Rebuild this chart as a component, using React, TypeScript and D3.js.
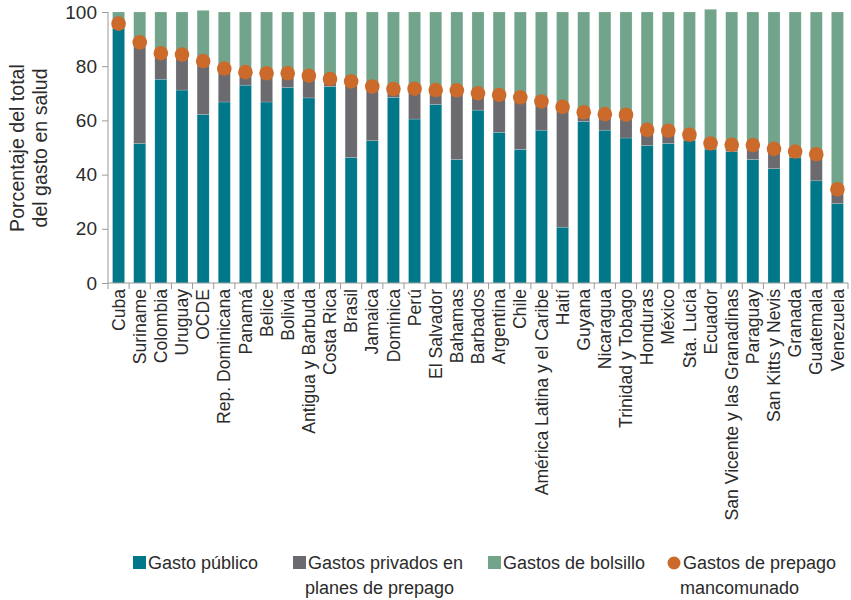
import * as d3 from 'd3'
import { useEffect, useRef } from 'react'

const width = 851
const height = 600
const margin = { top: 12, right: 3, bottom: 317, left: 108 }
const innerW = width - margin.left - margin.right
const innerH = height - margin.top - margin.bottom

const countries = [
  'Cuba', 'Suriname', 'Colombia', 'Uruguay', 'OCDE', 'Rep. Dominicana', 'Panamá', 'Belice',
  'Bolivia', 'Antigua y Barbuda', 'Costa Rica', 'Brasil', 'Jamaica', 'Dominica', 'Perú',
  'El Salvador', 'Bahamas', 'Barbados', 'Argentina', 'Chile', 'América Latina y el Caribe',
  'Haití', 'Guyana', 'Nicaragua', 'Trinidad y Tobago', 'Honduras', 'México', 'Sta. Lucía',
  'Ecuador', 'San Vicente y las Granadinas', 'Paraguay', 'San Kitts y Nevis', 'Granada',
  'Guatemala', 'Venezuela',
]
// gasto público
const publico = [
  94, 51.5, 75.2, 71.2, 62.2, 66.8, 73, 66.8, 72.2, 68.3, 72.5, 46.3, 52.5, 68.5, 60.5,
  65.9, 45.6, 63.8, 55.6, 49.3, 56.4, 20.6, 59.6, 56.4, 53.5, 50.7, 51.5, 52.7, 49.4,
  48.5, 45.6, 42.2, 46.3, 37.7, 29.3,
]
// gastos de prepago mancomunado (público + privado prepago)
const mancomunado = [
  95.7, 88.8, 84.8, 84.3, 81.9, 79.1, 77.8, 77.4, 77.4, 76.5, 75.3, 74.4, 72.5, 71.6, 71.7,
  71.2, 71.1, 70, 69.4, 68.5, 67, 65, 63, 62.3, 62.1, 56.5, 56.2, 54.7, 51.5, 51, 50.9,
  49.5, 48.5, 47.5, 34.6,
]
// gastos de bolsillo
const bolsillo = [
  4.3, 11.2, 15.2, 15.7, 18.7, 20.9, 22.2, 22.6, 22.6, 23.5, 24.7, 25.6, 27.5, 28.4, 28.3,
  28.8, 28.9, 30, 30.6, 31.5, 33, 35, 37, 37.7, 37.9, 43.5, 43.8, 45.3, 49.5, 49, 49.1,
  50.5, 51.5, 52.5, 65.4,
]
const yTicks = [0, 20, 40, 60, 80, 100]

const colors = {
  publico: '#00788a',
  privado: '#6b6b6f',
  bolsillo: '#72a48b',
  dot: '#cc6a2b',
}
const font = '"Liberation Sans", Arial, sans-serif'
const textColor = '#2b2b2b'

export default function App() {
  const ref = useRef<SVGSVGElement>(null)

  useEffect(() => {
    const root = d3.select(ref.current)
    root.selectAll('*').remove()
    const svg = root.append('g').attr('transform', `translate(${margin.left}, ${margin.top})`)

    const x = d3.scaleBand().domain(countries).range([0, innerW]).paddingInner(0.43).paddingOuter(0.215)
    const y = d3.scaleLinear().domain([0, 100]).range([innerH, 0])

    const rows = countries.map((c, i) => ({
      country: c,
      publico: publico[i],
      privado: mancomunado[i] - publico[i],
      bolsillo: bolsillo[i],
    }))
    const stack = d3.stack<any>().keys(['publico', 'privado', 'bolsillo'])(rows)

    svg
      .selectAll('g.layer')
      .data(stack)
      .enter()
      .append('g')
      .attr('class', 'layer')
      .attr('fill', (d) => (colors as any)[d.key])
      .selectAll('rect')
      .data((d) => d)
      .enter()
      .append('rect')
      .attr('x', (d: any) => x(d.data.country)!)
      .attr('width', x.bandwidth())
      .attr('y', (d) => y(d[1]))
      .attr('height', (d) => y(d[0]) - y(d[1]))
      .attr('stroke', 'rgba(255,255,255,0.35)')
      .attr('stroke-width', 0.5)

    // y axis
    const yAxis = svg.append('g').call(d3.axisLeft(y).tickValues(yTicks).tickSize(6).tickPadding(5))
    yAxis.select('.domain').attr('stroke', '#999').attr('d', `M0,0V${innerH}`)
    yAxis.selectAll('.tick line').attr('stroke', '#999')
    yAxis
      .selectAll('.tick text')
      .attr('fill', textColor)
      .style('font-family', font)
      .style('font-size', '19px')

    // x axis
    const xAxis = svg.append('g').attr('transform', `translate(0, ${innerH})`).call(d3.axisBottom(x).tickSize(0))
    xAxis.select('.domain').attr('stroke', '#999').attr('d', `M0,0H${innerW}`)
    xAxis.selectAll('.tick line').remove()
    xAxis
      .selectAll('.tick text')
      .attr('fill', textColor)
      .style('font-family', font)
      .style('font-size', '17.6px')
      .attr('text-anchor', 'end')
      .attr('transform', 'rotate(-90)')
      .attr('x', -6)
      .attr('y', 0)
      .attr('dy', '0.35em')
    // ticks between bars
    svg
      .append('g')
      .selectAll('line')
      .data(d3.range(countries.length + 1))
      .enter()
      .append('line')
      .attr('x1', (i) => i * x.step())
      .attr('x2', (i) => i * x.step())
      .attr('y1', innerH)
      .attr('y2', innerH + 6)
      .attr('stroke', '#999')

    // dots
    svg
      .selectAll('circle.dot')
      .data(rows)
      .enter()
      .append('circle')
      .attr('class', 'dot')
      .attr('cx', (d) => x(d.country)! + x.bandwidth() / 2)
      .attr('cy', (d, i) => y(mancomunado[i]))
      .attr('r', 7.3)
      .attr('fill', colors.dot)

    // y title
    const title = root
      .append('text')
      .attr('transform', 'translate(0, 148) rotate(-90)')
      .attr('text-anchor', 'middle')
      .attr('fill', textColor)
      .style('font-family', font)
      .style('font-size', '19.6px')
    title.append('tspan').attr('x', 0).attr('y', 24).text('Porcentaje del total')
    title.append('tspan').attr('x', 0).attr('y', 47).text('del gasto en salud')

    // legend
    const legend = [
      { label: ['Gasto público'], color: colors.publico, x: 133, shape: 'rect' },
      { label: ['Gastos privados en', 'planes de prepago'], color: colors.privado, x: 293, shape: 'rect' },
      { label: ['Gastos de bolsillo'], color: colors.bolsillo, x: 488, shape: 'rect' },
      { label: ['Gastos de prepago', 'mancomunado'], color: colors.dot, x: 668, shape: 'circle' },
    ]
    const lg = root.append('g').selectAll('g').data(legend).enter().append('g')
      .attr('transform', (d) => `translate(${d.x}, 563)`)
    lg.each(function (d) {
      const g = d3.select(this)
      if (d.shape === 'rect') {
        g.append('rect').attr('x', 0).attr('y', -7).attr('width', 13).attr('height', 13).attr('fill', d.color)
      } else {
        g.append('circle').attr('cx', 6).attr('cy', 0).attr('r', 6.5).attr('fill', d.color)
      }
      const t = g.append('text')
        .attr('fill', textColor)
        .style('font-family', font)
        .style('font-size', '18px')
      d.label.forEach((l, i) => {
        t.append('tspan').attr('x', i === 0 ? 15 : 12).attr('y', i * 25).attr('dy', '0.35em').text(l)
      })
    })
  }, [])

  return (
    <svg
      ref={ref}
      width={width}
      height={height}
      style={{ position: 'absolute', left: 0, top: 0, background: '#fff' }}
    />
  )
}
